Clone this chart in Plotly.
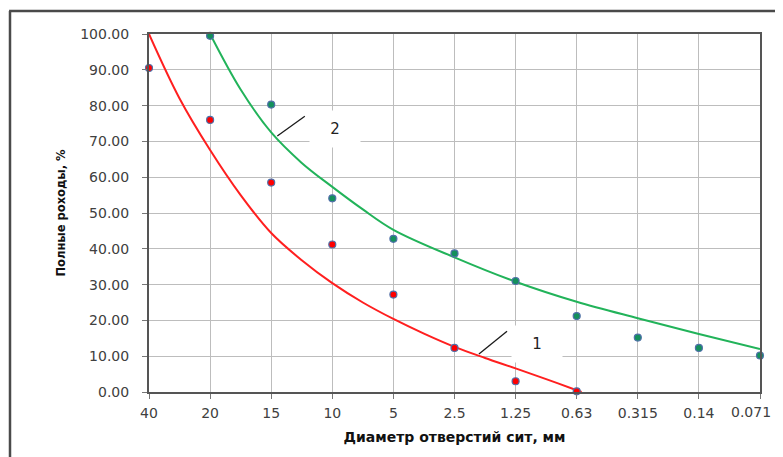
import plotly.graph_objects as go

# Sieve sizes (categories) and their positions on the axis
sieve_labels = ["40", "20", "15", "10", "5", "2.5", "1.25", "0.63", "0.315", "0.14", "0.071"]
sieve_pos = list(range(len(sieve_labels)))

# Measured points, series 1 (red)
s1_x = [0, 1, 2, 3, 4, 5, 6, 7]
s1_y = [90.5, 76.0, 58.5, 41.2, 27.2, 12.3, 3.0, 0.2]

# Measured points, series 2 (green)
s2_x = [1, 2, 3, 4, 5, 6, 7, 8, 9, 10]
s2_y = [99.5, 80.3, 54.1, 42.8, 38.7, 31.0, 21.2, 15.2, 12.3, 10.2]

# Trend curve 1 (red)
c1_x = [0, 0.5, 1, 1.5, 2, 2.5, 3, 3.5, 4, 4.5, 5, 5.5, 6, 6.5, 7, 7.08]
c1_y = [100.0, 82.0, 67.6, 55.0, 44.4, 36.8, 30.4, 25.0, 20.4, 16.3, 12.6, 9.5, 6.6, 3.6, 0.5, 0.0]

# Trend curve 2 (green)
c2_x = [1, 1.5, 2, 2.5, 3, 3.5, 4, 5, 6, 7, 8, 9, 10]
c2_y = [100.0, 84.5, 72.5, 64.0, 57.3, 51.0, 45.3, 37.6, 30.8, 25.2, 20.6, 16.2, 12.0]

y_ticks = [0, 10, 20, 30, 40, 50, 60, 70, 80, 90, 100]
y_tick_text = [f"{v:.2f}" for v in y_ticks]

# last label is drawn separately so it stays inside the chart, as in the original
x_tick_text = sieve_labels[:-1] + [""]

RED = "#FF1F1F"
GREEN = "#22B35A"
EDGE = "#4F6FA8"
TICK_FONT = dict(family="DejaVu Sans", size=14, color="#404040")

fig = go.Figure()
fig.add_trace(go.Scatter(x=c1_x, y=c1_y, mode="lines", line=dict(color=RED, width=2, shape="spline"),
                         hoverinfo="skip", showlegend=False))
fig.add_trace(go.Scatter(x=c2_x, y=c2_y, mode="lines", line=dict(color=GREEN, width=2, shape="spline"),
                         hoverinfo="skip", showlegend=False))
fig.add_trace(go.Scatter(x=s1_x, y=s1_y, mode="markers",
                         marker=dict(color="#FF0000", size=7, line=dict(color=EDGE, width=1.2)),
                         showlegend=False, cliponaxis=False))
fig.add_trace(go.Scatter(x=s2_x, y=s2_y, mode="markers",
                         marker=dict(color="#14905C", size=7, line=dict(color=EDGE, width=1.2)),
                         showlegend=False, cliponaxis=False))

# Leader lines for the curve labels
fig.add_shape(type="line", x0=2.1, y0=71.5, x1=2.55, y1=77.0, line=dict(color="#1a1a1a", width=1.3))
fig.add_shape(type="line", x0=5.4, y0=10.6, x1=5.86, y1=17.0, line=dict(color="#1a1a1a", width=1.3))

fig.add_annotation(x=3.05, y=73.5, text="2", showarrow=False, bgcolor="white",
                   width=48, height=34, font=dict(family="DejaVu Sans", size=15, color="#222"))
fig.add_annotation(x=6.35, y=13.5, text="1", showarrow=False, bgcolor="white",
                   width=48, height=34, font=dict(family="DejaVu Sans", size=15, color="#222"))

# Last x tick label
fig.add_annotation(x=sieve_pos[-1], xref="x", y=0, yref="paper", text=sieve_labels[-1],
                   showarrow=False, xanchor="right", yanchor="top", xshift=13, yshift=-10,
                   font=TICK_FONT)

# Outer frame (top and left edges)
fig.add_shape(type="line", xref="paper", yref="paper", x0=-0.229, x1=1.06, y0=1.064, y1=1.064,
              line=dict(color="#4a4a4a", width=2.5))
fig.add_shape(type="line", xref="paper", yref="paper", x0=-0.2275, x1=-0.2275, y0=1.064, y1=-0.2,
              line=dict(color="#4a4a4a", width=2.5))

fig.update_layout(
    width=775, height=449,
    margin=dict(l=141, r=23, t=26, b=65),
    paper_bgcolor="white", plot_bgcolor="white",
    font=dict(family="DejaVu Sans", color="#404040"),
)
fig.update_xaxes(
    range=[0, 10], tickmode="array", tickvals=sieve_pos, ticktext=x_tick_text,
    showgrid=True, gridcolor="#BDBDBD", gridwidth=1.2,
    showline=True, linecolor="#555555", linewidth=2, mirror=True,
    ticks="outside", ticklen=5, tickcolor="#777777", ticklabelstandoff=2,
    tickfont=TICK_FONT,
    title=dict(text="<b>Диаметр отверстий сит, мм</b>", standoff=12,
               font=dict(family="DejaVu Sans", size=14, color="#111111")),
    zeroline=False, automargin=False,
)
fig.update_yaxes(
    range=[0, 100], tickmode="array", tickvals=y_ticks, ticktext=y_tick_text,
    showgrid=True, gridcolor="#BDBDBD", gridwidth=1.2,
    showline=True, linecolor="#555555", linewidth=2, mirror=True,
    ticks="outside", ticklen=5, tickcolor="#777777", ticklabelstandoff=10,
    tickfont=TICK_FONT,
    title=dict(text="<b>Полные роходы, %</b>", standoff=12,
               font=dict(family="DejaVu Sans", size=11.5, color="#111111")),
    zeroline=False, automargin=False,
)

fig.write_html("out.html")
